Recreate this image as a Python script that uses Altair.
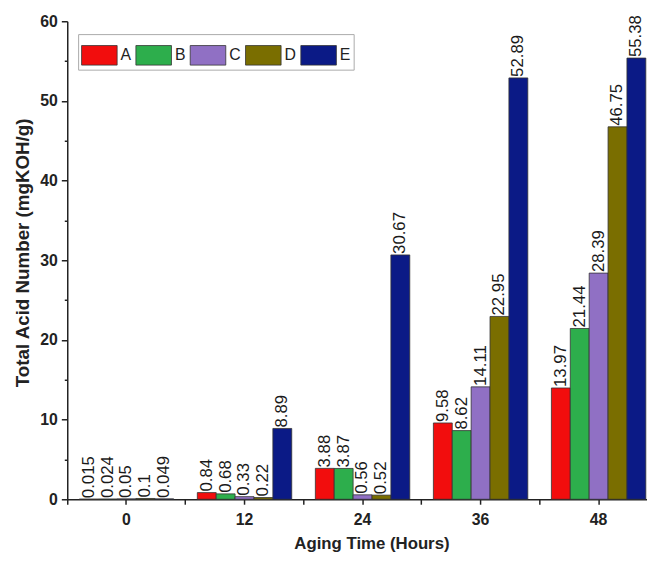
import altair as alt
import pandas as pd

# ---- data ----
hours = ["0", "12", "24", "36", "48"]
samples = ["A", "B", "C", "D", "E"]
val_A = [0.015, 0.84, 3.88, 9.58, 13.97]
val_B = [0.024, 0.68, 3.87, 8.62, 21.44]
val_C = [0.05, 0.33, 0.56, 14.11, 28.39]
val_D = [0.1, 0.22, 0.52, 22.95, 46.75]
val_E = [0.049, 8.89, 30.67, 52.89, 55.38]
colors = ["#f20d0d", "#2dae4c", "#9070c4", "#7a6e00", "#0b1a86"]
y_ticks = list(range(0, 61, 5))

series = {"A": val_A, "B": val_B, "C": val_C, "D": val_D, "E": val_E}
rows = []
for s in samples:
    for h, v in zip(hours, series[s]):
        rows.append({"Hour": h, "Sample": s, "Value": v, "Label": str(v)})
df = pd.DataFrame(rows)

FONT = "Liberation Sans"
INK = "#222222"

xscale = alt.Scale(domain=hours, range=[0, 598], paddingInner=0.2, paddingOuter=0.102)
yscale = alt.Scale(domain=[0, 60], nice=False)

x_axis = alt.Axis(
    title="Aging Time (Hours)", labelAngle=0, tickSize=5, labelPadding=8,
    titlePadding=8, titleX=308, orient="bottom", grid=False,
)
x_enc = alt.X("Hour:N", sort=hours, scale=xscale, axis=x_axis)
xo_enc = alt.XOffset("Sample:N", sort=samples)
y_enc = alt.Y(
    "Value:Q", scale=yscale,
    axis=alt.Axis(
        title="Total Acid Number (mgKOH/g)", values=y_ticks, grid=False,
        labelExpr="datum.value % 10 === 0 ? datum.label : ''",
        tickSize={"condition": {"test": "datum.value % 10 === 0", "value": 6}, "value": 3},
        labelPadding=4, titlePadding=7, titleFontSize=19, titleY=234,
    ),
)

bars = alt.Chart(df).mark_bar(stroke="#333333", strokeWidth=0.8).encode(
    x=x_enc,
    xOffset=xo_enc,
    y=y_enc,
    color=alt.Color(
        "Sample:N",
        scale=alt.Scale(domain=samples, range=colors),
        legend=alt.Legend(
            title=None, orient="none", legendX=11, legendY=13, direction="horizontal",
            symbolType="M-1,-0.55H1V0.55H-1Z", symbolSize=1296,
            symbolStrokeColor="#333333", symbolStrokeWidth=0.8, symbolOpacity=1,
            labelFont=FONT, labelFontSize=16, labelColor=INK, labelOffset=3,
            columnPadding=2, padding=3, strokeColor="#aaaaaa", fillColor="white",
        ),
    ),
)

labels = alt.Chart(df).mark_text(
    angle=270, align="left", baseline="middle", dx=1,
    font=FONT, fontSize=17, color="#1a1a1a",
).encode(x=x_enc, xOffset=xo_enc, y=y_enc, text="Label:N")

main = alt.layer(bars, labels)

minor_x = alt.Chart(df).mark_rule(opacity=0).encode(
    x=alt.X(
        "Hour:N", sort=hours, scale=xscale,
        axis=alt.Axis(bandPosition=-0.125, labels=False, domain=False, title=None,
                      tickSize=5, orient="bottom", grid=False),
    )
)

chart = (
    alt.layer(main, minor_x)
    .resolve_scale(x="independent")
    .properties(
        width=587, height=484,
        autosize=alt.AutoSizeParams(type="none"),
        padding={"left": 60, "top": 10, "right": 0, "bottom": 54},
    )
    .configure_view(strokeWidth=0)
    .configure_axis(
        domainColor=INK, domainWidth=1.5, tickColor=INK, tickWidth=1.5,
        labelFont=FONT, labelFontSize=16, labelFontWeight="bold", labelColor=INK,
        titleFont=FONT, titleFontSize=17, titleFontWeight="bold", titleColor=INK,
    )
)

chart.save("out.html", embed_options={"renderer": "svg", "actions": False})
